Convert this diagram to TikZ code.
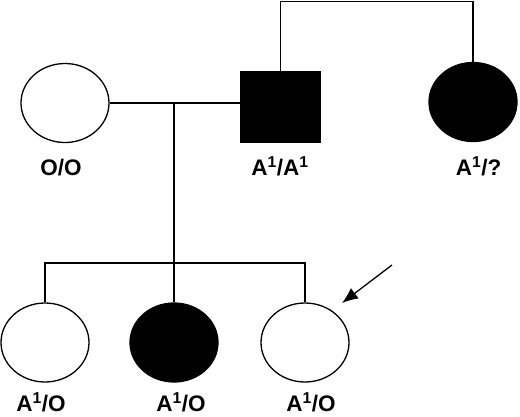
\documentclass[tikz,border=0pt]{standalone}
\usepackage{fontspec}
\setmainfont{Liberation Sans}
\tikzset{>=latex}
\usetikzlibrary{arrows.meta}
\usetikzlibrary{shapes.geometric}

\begin{document}
\begin{tikzpicture}[x=1pt, y=-1pt]
            \tikzset{person/.style={draw, line width=1.3pt, inner sep=0pt}};
            \tikzset{female/.style={person, ellipse, minimum width=88pt, minimum height=79pt}};
            \tikzset{male/.style={person, rectangle, minimum width=79pt, minimum height=70pt}};
            \tikzset{affected/.style={fill=black}};
            \tikzset{link/.style={line width=1.2pt}};
            \tikzset{genotype/.style={anchor=base, inner sep=0pt, font={\bfseries\fontsize{22.5}{22.5}\selectfont}}};
            \tikzset{arrow/.style={-{Latex[length=16pt, width=13pt]}, line width=1.3pt}};
            \useasboundingbox (0, 0) rectangle (520, 416);
            % Parents
            \node[female] (mother) at (65, 103) {};
            \node[male, affected] (father) at (280.5, 107) {};
            \node[female, affected] (aunt) at (473, 102) {};
            \node[genotype] (mother label) at (61, 175) {O/O};
            \node[genotype] (father label) at (280, 175) {A\textsuperscript{1}/A\textsuperscript{1}};
            \node[genotype] (aunt label) at (478.5, 175) {A\textsuperscript{1}/?};
            % Children
            \node[female] (child1) at (45, 342.5) {};
            \node[female, affected] (child2) at (174, 342.5) {};
            \node[female] (child3) at (305, 342.5) {};
            \node[genotype] (child1 label) at (41, 411) {A\textsuperscript{1}/O};
            \node[genotype] (child2 label) at (181, 411) {A\textsuperscript{1}/O};
            \node[genotype] (child3 label) at (311, 411) {A\textsuperscript{1}/O};
            % Lines of descent
            \coordinate (mating) at (child2.north |- mother.east);
            \coordinate (sibship) at (child2.north |- 0, 263);
            \draw[link] (mother.east) -- (mother.east -| father.west);
            \draw[link] (father.north) -- ++(0, -70) -| (aunt.north);
            \draw[link] (mating) -- (sibship);
            \draw[link] (child1.north) |- (sibship) -| (child3.north);
            \draw[link] (sibship) -- (child2.north);
            % Proband
            \coordinate (pointer) at (392, 265);
            \coordinate (proband) at (342, 303);
            \draw[arrow] (pointer) -- (proband);
\end{tikzpicture}
\end{document}
